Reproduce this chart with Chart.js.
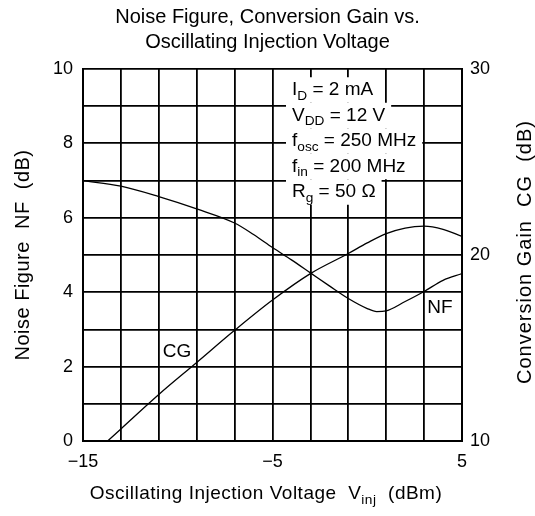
<!DOCTYPE html>
<html>
<head>
<meta charset="utf-8">
<script src="https://cdn.jsdelivr.net/npm/chart.js@4.4.1/dist/chart.umd.min.js"></script>
<style>
  html, body { margin: 0; padding: 0; background: #fff; }
  #chart { display: block; }
</style>
</head>
<body>
<canvas id="chart" width="535" height="516"></canvas>
<script>
// noise figure curve, left axis (dB)
const nfInjection = [-15, -13, -11, -9, -7, -6, -5, -4, -3, -2, -1, 0, 0.5, 1, 2, 3, 4, 5];
const nfValues = [7.0, 6.85, 6.57, 6.24, 5.86, 5.55, 5.2, 4.87, 4.52, 4.17, 3.83, 3.56, 3.48, 3.5, 3.75, 4.02, 4.32, 4.5];

// conversion gain curve, right axis (dB)
const cgInjection = [-13.7, -13, -11, -9, -7, -5, -3, -1, 0, 1, 2, 3, 4, 5];
const cgValues = [10, 10.65, 12.5, 14.22, 15.95, 17.58, 19.0, 20.08, 20.65, 21.15, 21.45, 21.55, 21.38, 21.0];

// only these ticks get a label, the others are just grid lines
const xLabels = [-15, -5, 5];
const nfLabels = [0, 2, 4, 6, 8, 10];
const cgLabels = [10, 20, 30];

// test conditions: [symbol, subscript, rest]
const conditions = [
  ['I', 'D', ' = 2 mA'],
  ['V', 'DD', ' = 12 V'],
  ['f', 'osc', ' = 250 MHz'],
  ['f', 'in', ' = 200 MHz'],
  ['R', 'g', ' = 50 \u03a9']
];

const FONT = "'Liberation Sans', Arial, sans-serif";
const SUB = 0.72;

function minus(v) {
    return v < 0 ? '\u2212' + Math.abs(v) : String(v);
}

function measureSegments(ctx, segs, size) {
    return segs.reduce((w, s) => {
        ctx.font = (s.sub ? size * SUB : size) + 'px ' + FONT;
        return w + ctx.measureText(s.t).width;
    }, 0);
}

/**
 * draws text made of normal and subscript pieces, returns total width
 */
function drawSegments(ctx, segs, x, y, size, align) {
    const total = measureSegments(ctx, segs, size);
    let cx = align === 'center' ? x - total / 2 : x;
    ctx.textAlign = 'left';
    ctx.textBaseline = 'middle';
    segs.forEach(s => {
        ctx.font = (s.sub ? size * SUB : size) + 'px ' + FONT;
        ctx.fillText(s.t, cx, s.sub ? y + size * 0.32 : y);
        cx += ctx.measureText(s.t).width;
    });
    return total;
}

const annotations = {
    id: 'annotations',
    afterDraw(chart) {
        const ctx = chart.ctx;
        ctx.save();

        // conditions block with white behind each line
        const size = 19, startX = 292, startY = 90, step = 25.5;
        const lines = conditions.map(c => [{t: c[0]}, {t: c[1], sub: true}, {t: c[2]}]);
        ctx.fillStyle = '#fff';
        lines.forEach((segs, i) => {
            const w = measureSegments(ctx, segs, size);
            ctx.fillRect(startX - 6, startY + i * step - step / 2, w + 12, step);
        });
        ctx.fillStyle = '#000';
        lines.forEach((segs, i) => {
            drawSegments(ctx, segs, startX, startY + i * step, size, 'left');
        });

        // curve labels
        drawSegments(ctx, [{t: 'CG'}], 177, 352, 19, 'center');
        drawSegments(ctx, [{t: 'NF'}], 440, 308, 19, 'center');

        ctx.letterSpacing = '0.5px';
        // x axis title with subscript
        drawSegments(ctx, [
            {t: 'Oscillating Injection Voltage  V'}, {t: 'inj', sub: true}, {t: '  (dBm)'}
        ], 266, 494, 19, 'center');

        // both y titles read bottom to top
        ctx.save();
        ctx.translate(23, 255);
        ctx.rotate(-Math.PI / 2);
        drawSegments(ctx, [{t: 'Noise Figure  NF  (dB)'}], 0, 0, 20, 'center');
        ctx.restore();

        ctx.translate(525, 252);
        ctx.rotate(-Math.PI / 2);
        ctx.letterSpacing = '1px';
        drawSegments(ctx, [{t: 'Conversion Gain  CG  (dB)'}], 0, 0, 20, 'center');
        ctx.restore();
    }
};

function initializeChart() {
    const canvas = document.querySelector('#chart');
    const gridStyle = {color: '#000', lineWidth: 1.8, drawTicks: false};
    const tickFont = {family: FONT, size: 18};
    const lineStyle = {
        borderColor: '#000',
        borderWidth: 1.3,
        pointRadius: 0,
        cubicInterpolationMode: 'monotone',
        fill: false
    };

    new Chart(canvas, {
        type: 'line',
        data: {
            datasets: [{
                ...lineStyle,
                label: 'NF',
                data: nfInjection.map((x, i) => ({x: x, y: nfValues[i]})),
                yAxisID: 'y'
            }, {
                ...lineStyle,
                label: 'CG',
                data: cgInjection.map((x, i) => ({x: x, y: cgValues[i]})),
                yAxisID: 'y1'
            }]
        },
        options: {
            responsive: false,
            animation: false,
            layout: {padding: 0, autoPadding: false},
            plugins: {
                legend: {display: false},
                tooltip: {enabled: false},
                title: {
                    display: true,
                    text: ['Noise Figure, Conversion Gain vs.', 'Oscillating Injection Voltage'],
                    color: '#000',
                    font: {family: FONT, size: 20, weight: 'normal', lineHeight: 1.25},
                    padding: {top: 5, bottom: 14}
                }
            },
            scales: {
                x: {
                    type: 'linear',
                    min: -15,
                    max: 5,
                    ticks: {
                        stepSize: 2,
                        autoSkip: false,
                        maxRotation: 0,
                        color: '#000',
                        font: tickFont,
                        padding: 10,
                        callback: v => xLabels.includes(v) ? minus(v) : ''
                    },
                    grid: gridStyle,
                    border: {color: '#000', width: 2},
                    afterFit: s => { s.height = 75; }
                },
                y: {
                    position: 'left',
                    min: 0,
                    max: 10,
                    ticks: {
                        stepSize: 1,
                        color: '#000',
                        font: tickFont,
                        padding: 10,
                        callback: v => nfLabels.includes(v) ? String(v) : ''
                    },
                    grid: gridStyle,
                    border: {color: '#000', width: 2},
                    afterFit: s => { s.width = 83; }
                },
                y1: {
                    position: 'right',
                    min: 10,
                    max: 30,
                    ticks: {
                        stepSize: 10,
                        color: '#000',
                        font: tickFont,
                        padding: 8,
                        callback: v => cgLabels.includes(v) ? String(v) : ''
                    },
                    grid: {display: false, drawTicks: false},
                    border: {color: '#000', width: 2},
                    afterFit: s => { s.width = 73; }
                }
            }
        },
        plugins: [annotations]
    });
}

document.addEventListener('DOMContentLoaded', () => {
    initializeChart();
});
</script>
</body>
</html>
